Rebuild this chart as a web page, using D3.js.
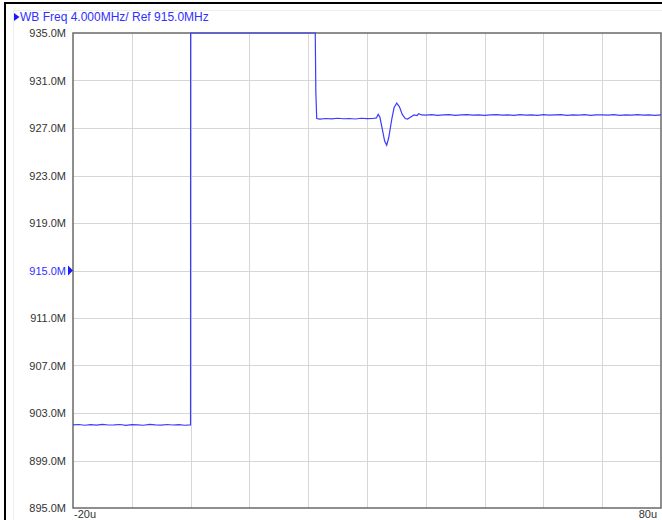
<!DOCTYPE html>
<html><head><meta charset="utf-8">
<script src="https://cdn.jsdelivr.net/npm/d3@7"></script>
<style>body{margin:0;background:#fff;}svg{display:block;}</style>
</head><body>
<svg id="c" width="662" height="520"></svg>
<script>
const titleText = "WB Freq 4.000MHz/ Ref 915.0MHz";
const yTicks = [935, 931, 927, 923, 919, 915, 911, 907, 903, 899, 895];
const refLevel = 915;
const xDomain = [-20, 80];
const xTickLabels = ["-20u", "80u"];
// time (u) and WB frequency (MHz) (values above 935 are clamped to the top)
const seg1T = [-20,-19,-18,-17,-16,-15,-14,-13,-12,-11,-10,-9,-8,-7,-6,-5,-4,-3,-2,-1,-0.01];
const seg1F = [902.0,902.03,901.97,902.02,901.98,902.04,901.99,902.0,902.03,901.96,902.02,902.0,901.97,902.04,902.0,901.98,902.03,901.99,902.02,901.97,902.0];
const seg2T = [0, 5, 10, 15, 21.2];
const seg2F = [935, 935, 935, 935, 935];
const seg3T = [21.3,21.45,22,23,24,25,26,27,28,29,30,31,31.6,31.9,32.2,32.6,33.0,33.35,33.7,34.2,34.6,35.05,35.5,36.0,36.5,36.9,37.5,38.0,38.5,38.8,39.3];
const seg3F = [930.0,927.8,927.75,927.8,927.77,927.82,927.78,927.8,927.76,927.82,927.79,927.8,927.85,928.15,927.9,926.9,925.9,925.55,926.2,927.7,928.7,929.1,928.8,928.15,927.8,927.75,927.95,928.1,928.05,928.2,928.1];
const seg4T = [40,41,42,43,44,45,46,47,48,49,50,51,52,53,54,55,56,57,58,59,60,61,62,63,64,65,66,67,68,69,70,71,72,73,74,75,76,77,78,79,80];
const seg4F = [928.08,928.12,928.07,928.1,928.13,928.06,928.1,928.12,928.08,928.11,928.06,928.1,928.13,928.08,928.1,928.07,928.12,928.09,928.1,928.06,928.12,928.08,928.1,928.13,928.07,928.1,928.08,928.12,928.06,928.1,928.11,928.08,928.12,928.07,928.1,928.09,928.12,928.08,928.1,928.07,928.1];

const svg = d3.select("#c");
const L = 73, R = 661, T = 33, B = 508;
const x = d3.scaleLinear().domain(xDomain).range([L, R]);
const y = d3.scaleLinear().domain([yTicks[yTicks.length-1], yTicks[0]]).range([B, T]);
const font = "'Liberation Sans', Arial, sans-serif";

// outer frame
svg.append("rect").attr("x",13.5).attr("y",10.5).attr("width",660).attr("height",520).attr("fill","none").attr("stroke","#eeeeee");
svg.append("line").attr("x1",5).attr("x2",662).attr("y1",3).attr("y2",3).attr("stroke","#000").attr("stroke-width",2);
svg.append("line").attr("x1",5).attr("x2",5).attr("y1",2).attr("y2",520).attr("stroke","#000").attr("stroke-width",2);

// title
svg.append("path").attr("d","M14,13L19.5,17L14,21Z").attr("fill","#1a1aff");
svg.append("text").attr("x",20).attr("y",21).attr("fill","#3030ff").style("font-family",font).style("font-size","12px").text(titleText);

// grid
const xt = d3.range(xDomain[0], xDomain[1]+0.001, 10);
svg.append("g").selectAll("line").data(xt.slice(1,-1)).join("line")
  .attr("x1",d=>Math.round(x(d))+0.5).attr("x2",d=>Math.round(x(d))+0.5).attr("y1",T).attr("y2",B)
  .attr("stroke","#d6d6d6");
svg.append("g").selectAll("line").data(yTicks.slice(1,-1)).join("line")
  .attr("x1",L).attr("x2",R).attr("y1",d=>Math.round(y(d))+0.5).attr("y2",d=>Math.round(y(d))+0.5)
  .attr("stroke","#d6d6d6");

// border
svg.append("path").attr("d",`M${L},${B}V${T}H${R}V${B}Z`).attr("fill","none").attr("stroke","#6a6a6a").attr("stroke-width",1.5);

// y labels
svg.append("g").selectAll("text").data(yTicks).join("text")
  .attr("x",66).attr("y",d=>y(d)+4).attr("text-anchor","end")
  .attr("fill",d=>d===refLevel?"#3030ff":"#333")
  .style("font-family",font).style("font-size","11px")
  .text(d=>d3.format(".1f")(d)+"M");
svg.append("path").attr("d",`M68,${y(refLevel)-5}L73,${y(refLevel)}L68,${y(refLevel)+5}Z`).attr("fill","#1a1aff");

// x labels
svg.append("text").attr("x",L+1).attr("y",518).attr("fill","#333").style("font-family",font).style("font-size","11px").text(xTickLabels[0]);
svg.append("text").attr("x",657).attr("y",518).attr("text-anchor","end").attr("fill","#333").style("font-family",font).style("font-size","11px").text(xTickLabels[1]);

// trace
const T_all = [...seg1T, ...seg2T, ...seg3T, ...seg4T];
const F_all = [...seg1F, ...seg2F, ...seg3F, ...seg4F];
const pts = T_all.map((t,i)=>[t, F_all[i]]);
const line = d3.line().x(d=>x(d[0])).y(d=>y(d[1]));
svg.append("path").datum(pts).attr("d",line).attr("fill","none").attr("stroke","#3c3cff").attr("stroke-width",1.2);
</script>
</body></html>
